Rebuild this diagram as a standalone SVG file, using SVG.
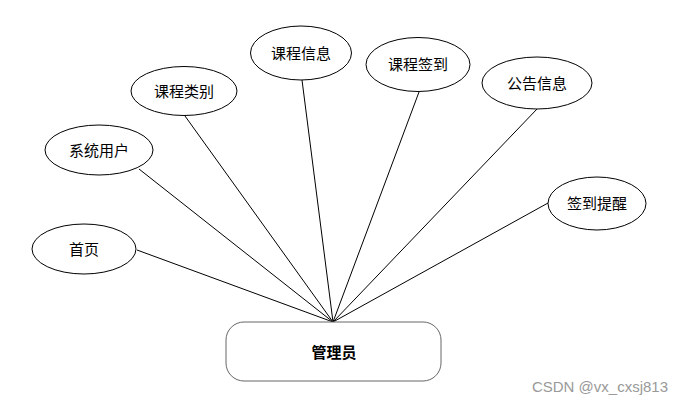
<svg xmlns="http://www.w3.org/2000/svg" width="683" height="403" viewBox="0 0 683 403">
<style>
.n ellipse{fill:#fff;stroke:#000;stroke-width:1}
.t{font-family:"Liberation Sans","Noto Sans CJK SC",sans-serif;font-size:15px;fill:#000;text-anchor:middle;dominant-baseline:central}
.c line{stroke:#000;stroke-width:1}
</style>
<rect width="683" height="403" fill="#fff"/>
<g class="c" id="connectors">
<line x1="137" y1="250" x2="333" y2="322"/>
<line x1="139" y1="169" x2="333" y2="322"/>
<line x1="185" y1="116" x2="333" y2="322"/>
<line x1="302" y1="80" x2="333" y2="322"/>
<line x1="419" y1="92" x2="333" y2="322"/>
<line x1="537" y1="109" x2="333" y2="322"/>
<line x1="548" y1="203" x2="333" y2="322"/>
</g>
<g id="admin">
<rect x="226" y="322" width="215" height="59" rx="18" fill="#fff" stroke="#666" stroke-width="1"/>
<text class="t" x="334" y="352" font-weight="bold">管理员</text>
</g>
<g class="n" id="home"><ellipse cx="84" cy="249" rx="52" ry="25"/><text class="t" x="84" y="249">首页</text></g>
<g class="n" id="sysuser"><ellipse cx="99" cy="150" rx="54" ry="25"/><text class="t" x="99" y="150">系统用户</text></g>
<g class="n" id="coursetype"><ellipse cx="184" cy="91" rx="53" ry="24.5"/><text class="t" x="184" y="91">课程类别</text></g>
<g class="n" id="courseinfo"><ellipse cx="301" cy="53" rx="50.5" ry="27"/><text class="t" x="301" y="53">课程信息</text></g>
<g class="n" id="checkin"><ellipse cx="418" cy="64.5" rx="52" ry="27"/><text class="t" x="418" y="64">课程签到</text></g>
<g class="n" id="notice"><ellipse cx="537" cy="83" rx="55" ry="26"/><text class="t" x="537" y="83">公告信息</text></g>
<g class="n" id="remind"><ellipse cx="597" cy="203.5" rx="49" ry="26.5"/><text class="t" x="597" y="203">签到提醒</text></g>
<text x="668" y="392" font-family="Liberation Sans, sans-serif" font-size="15" fill="#999" text-anchor="end">CSDN @vx_cxsj813</text>
</svg>
